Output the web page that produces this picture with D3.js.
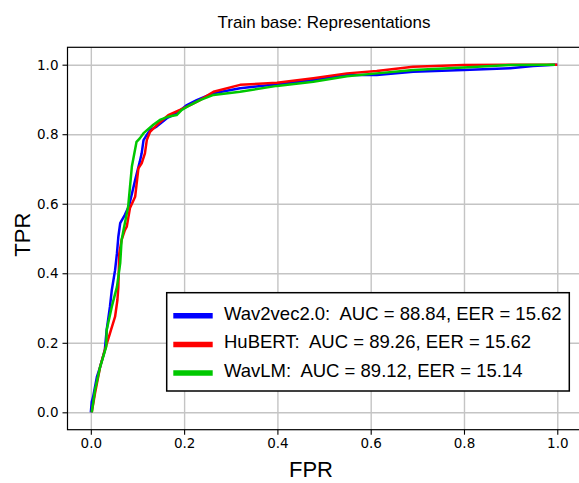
<!DOCTYPE html>
<html>
<head>
<meta charset="utf-8">
<script src="https://cdn.jsdelivr.net/npm/d3@7"></script>
<style>
  body { margin: 0; background: #fff; }
  svg { display: block; }
</style>
</head>
<body>
<div id="chart-area"></div>
<script>
//ROC chart

//Data
var seriesNames = ["Wav2vec2.0", "HuBERT", "WavLM"]
var seriesAuc = ["88.84", "89.26", "89.12"]
var seriesEer = ["15.62", "15.62", "15.14"]
var seriesColors = ["#0000ff", "#ff0000", "#00c800"]

var wav2vecFpr = [0.000, 0.002, 0.005, 0.013, 0.020, 0.030, 0.034, 0.041, 0.045, 0.052, 0.056, 0.059, 0.063, 0.073, 0.082, 0.095, 0.105, 0.109, 0.113, 0.120, 0.127, 0.141, 0.163, 0.184, 0.206, 0.227, 0.263, 0.320, 0.399, 0.477, 0.549, 0.613, 0.691, 0.799, 0.899, 0.948, 0.995, 1.000]
var wav2vecTpr = [0.000, 0.030, 0.045, 0.102, 0.131, 0.179, 0.237, 0.304, 0.352, 0.409, 0.457, 0.505, 0.544, 0.568, 0.594, 0.668, 0.721, 0.745, 0.783, 0.798, 0.812, 0.822, 0.846, 0.860, 0.884, 0.898, 0.918, 0.932, 0.944, 0.956, 0.970, 0.970, 0.980, 0.985, 0.990, 0.996, 1.000, 1.000]

var hubertFpr = [0.002, 0.009, 0.020, 0.030, 0.041, 0.052, 0.057, 0.059, 0.061, 0.066, 0.073, 0.077, 0.084, 0.095, 0.102, 0.109, 0.116, 0.120, 0.127, 0.145, 0.166, 0.191, 0.213, 0.234, 0.263, 0.320, 0.399, 0.477, 0.549, 0.613, 0.691, 0.799, 0.899, 1.000]
var hubertTpr = [0.000, 0.055, 0.131, 0.179, 0.227, 0.275, 0.323, 0.361, 0.457, 0.496, 0.524, 0.534, 0.588, 0.620, 0.702, 0.716, 0.745, 0.783, 0.807, 0.831, 0.855, 0.870, 0.884, 0.898, 0.922, 0.942, 0.948, 0.961, 0.975, 0.982, 0.994, 0.999, 1.000, 1.000]

var wavlmFpr = [0.002, 0.009, 0.020, 0.033, 0.034, 0.045, 0.056, 0.063, 0.066, 0.070, 0.080, 0.088, 0.098, 0.105, 0.113, 0.134, 0.148, 0.165, 0.184, 0.195, 0.213, 0.234, 0.263, 0.320, 0.399, 0.477, 0.549, 0.613, 0.691, 0.799, 0.899, 0.995]
var wavlmTpr = [0.000, 0.064, 0.131, 0.189, 0.237, 0.304, 0.361, 0.429, 0.496, 0.524, 0.591, 0.707, 0.778, 0.788, 0.803, 0.827, 0.841, 0.850, 0.855, 0.870, 0.884, 0.898, 0.913, 0.922, 0.939, 0.951, 0.967, 0.975, 0.985, 0.992, 0.999, 1.000]

var xTicks = [0, 0.2, 0.4, 0.6, 0.8, 1.0]
var yTicks = [0, 0.2, 0.4, 0.6, 0.8, 1.0]

var fprs = [wav2vecFpr, hubertFpr, wavlmFpr]
var tprs = [wav2vecTpr, hubertTpr, wavlmTpr]

//Set Margins, width and height variables
var margin = {top:47.3, bottom:53.3, left:67.5, right:-1.6}
var width = 579 - margin.left - margin.right
var height = 483 - margin.top - margin.bottom

var tickFont = "'DejaVu Sans', sans-serif"
var textFont = "'Liberation Sans', Arial, sans-serif"

//Scales (matplotlib style 5% margins)
var x = d3.scaleLinear().domain([-0.05, 1.05]).range([0, width])
var y = d3.scaleLinear().domain([-0.05, 1.05]).range([height, 0])

var svg = d3.select("#chart-area")
    .append("svg")
        .attr("width", 579)
        .attr("height", 483)

svg.append("rect")
    .attr("width", 579)
    .attr("height", 483)
    .attr("fill", "#fff")

var canvas = svg.append("g")
    .attr("transform", "translate(" + margin.left + "," + margin.top + ")")

//Grid
var xGrid = canvas.append("g")
    .attr("transform", "translate(0," + height + ")")
    .call(d3.axisBottom(x).tickValues(xTicks).tickSize(-height).tickFormat(""))
var yGrid = canvas.append("g")
    .call(d3.axisLeft(y).tickValues(yTicks).tickSize(-width).tickFormat(""))
canvas.selectAll(".domain").remove()
canvas.selectAll(".tick line")
    .attr("stroke", "#c4c4c4")
    .attr("stroke-width", 1.4)

//Clip to axes
canvas.append("clipPath")
    .attr("id", "plot-clip")
    .append("rect")
        .attr("width", width)
        .attr("height", height)

var line = d3.line()
    .x((d)=>{ return x(d[0]) })
    .y((d)=>{ return y(d[1]) })

var plot = canvas.append("g").attr("clip-path", "url(#plot-clip)")

seriesNames.forEach((name, i)=>{
    var pts = fprs[i].map((f, j)=>{ return [f, tprs[i][j]] })
    plot.append("path")
        .datum(pts)
        .attr("fill", "none")
        .attr("stroke", seriesColors[i])
        .attr("stroke-width", 2.5)
        .attr("stroke-linejoin", "round")
        .attr("d", line)
})

//Axes
var xAxisGroup = canvas.append("g")
    .attr("transform", "translate(0," + height + ")")
    .call(d3.axisBottom(x).tickValues(xTicks).tickSize(5).tickPadding(4).tickFormat(d3.format(".1f")))
var yAxisGroup = canvas.append("g")
    .call(d3.axisLeft(y).tickValues(yTicks).tickSize(5).tickPadding(4).tickFormat(d3.format(".1f")))

;[xAxisGroup, yAxisGroup].forEach((g)=>{
    g.select(".domain").remove()
    g.selectAll(".tick line").attr("stroke", "#000").attr("stroke-width", 1.1)
    g.selectAll("text")
        .attr("font-family", tickFont)
        .attr("font-size", "13.5px")
        .attr("fill", "#000")
})

//Spines
canvas.append("rect")
    .attr("width", width)
    .attr("height", height)
    .attr("fill", "none")
    .attr("stroke", "#000")
    .attr("stroke-width", 1.2)

//Title and labels
svg.append("text")
    .attr("x", margin.left + x(0.5))
    .attr("y", 28)
    .attr("text-anchor", "middle")
    .attr("font-family", textFont)
    .attr("font-size", "17px")
    .text("Train base: Representations")

svg.append("text")
    .attr("x", 311)
    .attr("y", 477)
    .attr("text-anchor", "middle")
    .attr("font-family", textFont)
    .attr("font-size", "22px")
    .text("FPR")

svg.append("text")
    .attr("transform", "translate(30," + (margin.top + height * 0.49) + ") rotate(-90)")
    .attr("text-anchor", "middle")
    .attr("font-family", textFont)
    .attr("font-size", "22px")
    .text("TPR")

//Legend
var legend = svg.append("g")
    .attr("transform", "translate(166.7,292.7)")

legend.append("rect")
    .attr("width", 402.6)
    .attr("height", 98.3)
    .attr("fill", "#fff")
    .attr("stroke", "#000")
    .attr("stroke-width", 1.5)

seriesNames.forEach((name, i)=>{
    var row = legend.append("g")
        .attr("transform", "translate(0," + (27 + i * 28.7) + ")")
    row.append("line")
        .attr("x1", 6.6)
        .attr("x2", 46)
        .attr("y1", -4)
        .attr("y2", -4)
        .attr("stroke", seriesColors[i])
        .attr("stroke-width", 5.5)
    row.append("text")
        .attr("x", 57.3)
        .attr("y", 0)
        .attr("font-family", textFont)
        .attr("font-size", "18.5px")
        .style("white-space", "pre")
        .text(name + ":  AUC = " + seriesAuc[i] + ", EER = " + seriesEer[i])
})
</script>
</body>
</html>
